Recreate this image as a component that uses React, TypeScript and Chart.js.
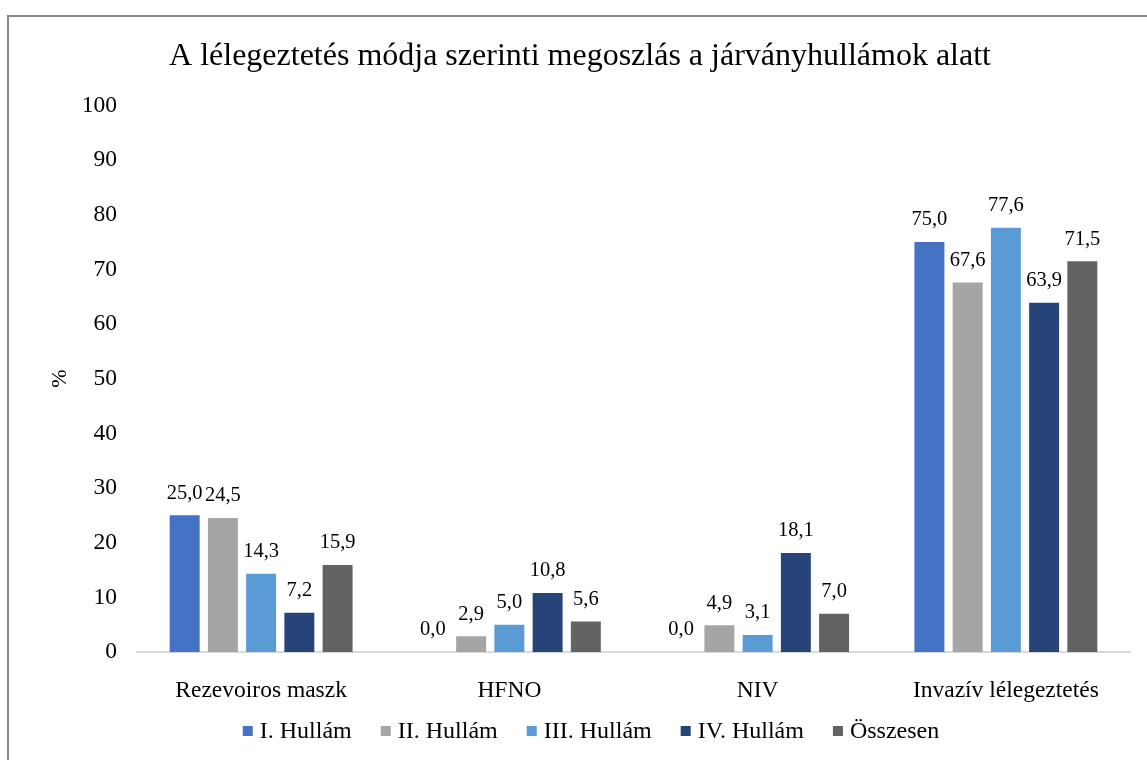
import React, { useEffect, useRef } from "react";
import { Chart, registerables } from "chart.js";

Chart.register(...registerables);

const FONT = '"Liberation Serif", "Times New Roman", serif';

const titleText = "A lélegeztetés módja szerinti megoszlás a járványhullámok alatt";
const yAxisTitle = "%";
const categories = ["Rezevoiros maszk", "HFNO", "NIV", "Invazív lélegeztetés"];
const seriesNames = ["I. Hullám", "II. Hullám", "III. Hullám", "IV. Hullám", "Összesen"];
const wave1 = [25.0, 0.0, 0.0, 75.0];
const wave2 = [24.5, 2.9, 4.9, 67.6];
const wave3 = [14.3, 5.0, 3.1, 77.6];
const wave4 = [7.2, 10.8, 18.1, 63.9];
const totalValues = [15.9, 5.6, 7.0, 71.5];
const seriesColors = ["#4472C4", "#A5A5A5", "#5B9BD5", "#264478", "#636363"];
const yMin = 0;
const yMax = 100;
const yStep = 10;

const valueLabels = {
  id: "valueLabels",
  afterDatasetsDraw(chart: any) {
    const ctx = chart.ctx;
    ctx.save();
    ctx.font = `20.5px ${FONT}`;
    ctx.fillStyle = "#000000";
    ctx.textAlign = "center";
    ctx.textBaseline = "middle";
    chart.data.datasets.forEach((ds: any, i: number) => {
      const meta = chart.getDatasetMeta(i);
      meta.data.forEach((el: any, j: number) => {
        const v = ds.data[j] as number;
        ctx.fillText(v.toFixed(1).replace(".", ","), el.x, el.y - 22);
      });
    });
    ctx.restore();
  },
};

const customLegend = {
  id: "customLegend",
  afterDraw(chart: any) {
    const ctx = chart.ctx;
    ctx.save();
    ctx.font = `24px ${FONT}`;
    const box = 10;
    const gap = 7;
    const spacing = 29;
    const ds = chart.data.datasets;
    const widths = ds.map((d: any) => ctx.measureText(d.label).width);
    let total = 0;
    widths.forEach((w: number) => (total += box + gap + w));
    total += spacing * (ds.length - 1);
    let x = 591 - total / 2;
    const y = 731;
    ctx.textBaseline = "middle";
    ctx.textAlign = "left";
    ds.forEach((d: any, i: number) => {
      ctx.fillStyle = d.backgroundColor;
      ctx.fillRect(x, y - box / 2, box, box);
      x += box + gap;
      ctx.fillStyle = "#000000";
      ctx.fillText(d.label, x, y + 1);
      x += widths[i] + spacing;
    });
    ctx.restore();
  },
};

export default function App() {
  const canvasRef = useRef<HTMLCanvasElement | null>(null);

  useEffect(() => {
    const canvas = canvasRef.current;
    if (!canvas) return;
    const seriesData = [wave1, wave2, wave3, wave4, totalValues];
    const chart = new Chart(canvas, {
      type: "bar",
      data: {
        labels: categories,
        datasets: seriesNames.map((name, i) => ({
          label: name,
          data: seriesData[i],
          backgroundColor: seriesColors[i],
          borderWidth: 0,
          categoryPercentage: 0.77,
          barPercentage: 0.784,
        })),
      },
      options: {
        responsive: false,
        animation: false,
        layout: { padding: { top: 37, left: 30, right: 17, bottom: 50 } },
        plugins: {
          legend: { display: false },
          tooltip: { enabled: false },
          title: {
            display: true,
            text: titleText,
            color: "#000000",
            font: { family: FONT, size: 32, weight: "normal" },
            padding: { top: 0, bottom: 30 },
          },
        },
        scales: {
          x: {
            grid: { display: false },
            border: { display: true, color: "#D9D9D9", width: 2 },
            ticks: {
              color: "#000000",
              font: { family: FONT, size: 23.5 },
              padding: 17,
              maxRotation: 0,
            },
            afterFit(scale: any) {
              scale.height = 58;
            },
          },
          y: {
            min: yMin,
            max: yMax,
            grid: { display: false, drawTicks: false },
            border: { display: false },
            ticks: {
              stepSize: yStep,
              color: "#000000",
              font: { family: FONT, size: 23.5 },
              padding: 20,
            },
            title: {
              display: true,
              text: yAxisTitle,
              color: "#000000",
              font: { family: FONT, size: 22 },
              padding: { top: 17, bottom: 0 },
            },
            afterFit(scale: any) {
              scale.width = 107;
            },
          },
        },
      },
      plugins: [valueLabels, customLegend],
    });
    return () => chart.destroy();
  }, []);

  return (
    <div style={{ position: "fixed", left: 0, top: 0, width: 1147, height: 760, background: "#ffffff", overflow: "hidden" }}>
      <div
        style={{
          position: "absolute",
          left: 7,
          top: 15,
          width: 1200,
          height: 800,
          borderTop: "2px solid #8A8A8A",
          borderLeft: "2px solid #8A8A8A",
        }}
      />
      <canvas
        ref={canvasRef}
        width={1147}
        height={760}
        style={{ position: "absolute", left: 0, top: 0, width: 1147, height: 760 }}
      />
    </div>
  );
}
